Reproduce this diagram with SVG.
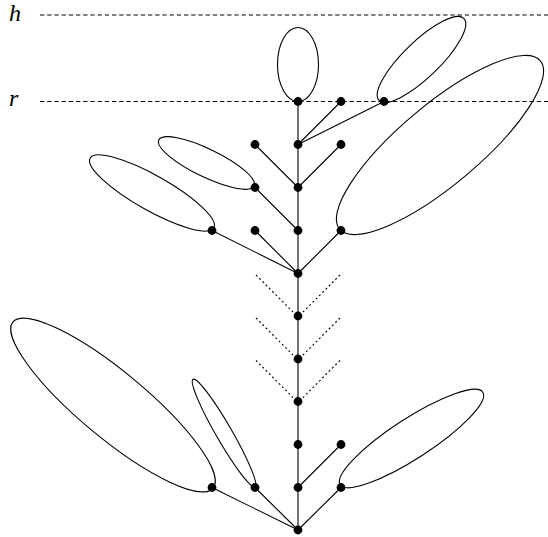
<svg xmlns="http://www.w3.org/2000/svg" width="548" height="537" viewBox="0 0 548 537">
<style>
.lvl{stroke:#000;stroke-width:1;stroke-dasharray:4.3 2.9;fill:none}
.e{stroke:#000;stroke-width:1.1;fill:none}
.dd{stroke:#000;stroke-width:1.1;stroke-dasharray:2 2.6;fill:none}
.loop{stroke:#000;stroke-width:1.1;fill:none}
.dot{fill:#000}
.lab{font-family:"Liberation Serif",serif;font-style:italic;font-size:24px;fill:#000}
</style>
<g id="levels">
<line class="lvl" x1="40" y1="15" x2="548" y2="15"/>
<line class="lvl" x1="40" y1="101.5" x2="548" y2="101.5"/>
<text class="lab" x="9" y="21">h</text>
<text class="lab" x="9" y="105.5">r</text>
</g>
<g id="loops">
<ellipse class="loop" cx="298" cy="64.5" rx="20.5" ry="37"/>
<ellipse class="loop" cx="0" cy="0" rx="59" ry="18" transform="translate(421.5 59.5) rotate(-44)"/>
<ellipse class="loop" cx="0" cy="0" rx="131" ry="40" transform="translate(440 145) rotate(-40)"/>
<ellipse class="loop" cx="0" cy="0" rx="71" ry="17.5" transform="translate(152 193) rotate(29.4)"/>
<ellipse class="loop" cx="0" cy="0" rx="53" ry="14" transform="translate(206.5 163) rotate(25.8)"/>
<ellipse class="loop" cx="0" cy="0" rx="130" ry="33" transform="translate(113 405) rotate(39.7)"/>
<ellipse class="loop" cx="0" cy="0" rx="62" ry="8" transform="translate(224 433) rotate(60)"/>
<ellipse class="loop" cx="0" cy="0" rx="85" ry="20" transform="translate(411.5 438.5) rotate(-33)"/>
</g>
<g id="connectors">
<line class="e" x1="298" y1="101.5" x2="298" y2="530"/>
<line class="e" x1="298" y1="144.5" x2="341" y2="101.5"/>
<line class="e" x1="298" y1="144.5" x2="384" y2="101.5"/>
<line class="e" x1="255" y1="144.5" x2="298" y2="187.5"/>
<line class="e" x1="341" y1="144.5" x2="298" y2="187.5"/>
<line class="e" x1="255" y1="187.5" x2="298" y2="230.5"/>
<line class="e" x1="212" y1="230.5" x2="298" y2="273.5"/>
<line class="e" x1="255" y1="230.5" x2="298" y2="273.5"/>
<line class="e" x1="341" y1="230.5" x2="298" y2="273.5"/>
<line class="e" x1="298" y1="487.5" x2="341" y2="444.5"/>
<line class="e" x1="212" y1="487.5" x2="298" y2="530"/>
<line class="e" x1="255" y1="487.5" x2="298" y2="530"/>
<line class="e" x1="341" y1="487.5" x2="298" y2="530"/>
<line class="dd" x1="256" y1="275" x2="293" y2="312"/>
<line class="dd" x1="340" y1="275" x2="303" y2="312"/>
<line class="dd" x1="256" y1="318" x2="293" y2="355"/>
<line class="dd" x1="340" y1="318" x2="303" y2="355"/>
<line class="dd" x1="256" y1="360.5" x2="293" y2="397.5"/>
<line class="dd" x1="340" y1="360.5" x2="303" y2="397.5"/>
</g>
<g id="nodes">
<circle id="n0" class="dot" cx="298" cy="101.5" r="4.4"/>
<circle id="n1" class="dot" cx="341" cy="101.5" r="4.4"/>
<circle id="n2" class="dot" cx="384" cy="101.5" r="4.4"/>
<circle id="n3" class="dot" cx="255" cy="144.5" r="4.4"/>
<circle id="n4" class="dot" cx="298" cy="144.5" r="4.4"/>
<circle id="n5" class="dot" cx="341" cy="144.5" r="4.4"/>
<circle id="n6" class="dot" cx="255" cy="187.5" r="4.4"/>
<circle id="n7" class="dot" cx="298" cy="187.5" r="4.4"/>
<circle id="n8" class="dot" cx="212" cy="230.5" r="4.4"/>
<circle id="n9" class="dot" cx="255" cy="230.5" r="4.4"/>
<circle id="n10" class="dot" cx="298" cy="230.5" r="4.4"/>
<circle id="n11" class="dot" cx="341" cy="230.5" r="4.4"/>
<circle id="n12" class="dot" cx="298" cy="273.5" r="4.4"/>
<circle id="n13" class="dot" cx="298" cy="316" r="4.4"/>
<circle id="n14" class="dot" cx="298" cy="359" r="4.4"/>
<circle id="n15" class="dot" cx="298" cy="401.5" r="4.4"/>
<circle id="n16" class="dot" cx="298" cy="444.5" r="4.4"/>
<circle id="n17" class="dot" cx="341" cy="444.5" r="4.4"/>
<circle id="n18" class="dot" cx="212" cy="487.5" r="4.4"/>
<circle id="n19" class="dot" cx="255" cy="487.5" r="4.4"/>
<circle id="n20" class="dot" cx="298" cy="487.5" r="4.4"/>
<circle id="n21" class="dot" cx="341" cy="487.5" r="4.4"/>
<circle id="n22" class="dot" cx="298" cy="530" r="4.4"/>
</g>
</svg>
